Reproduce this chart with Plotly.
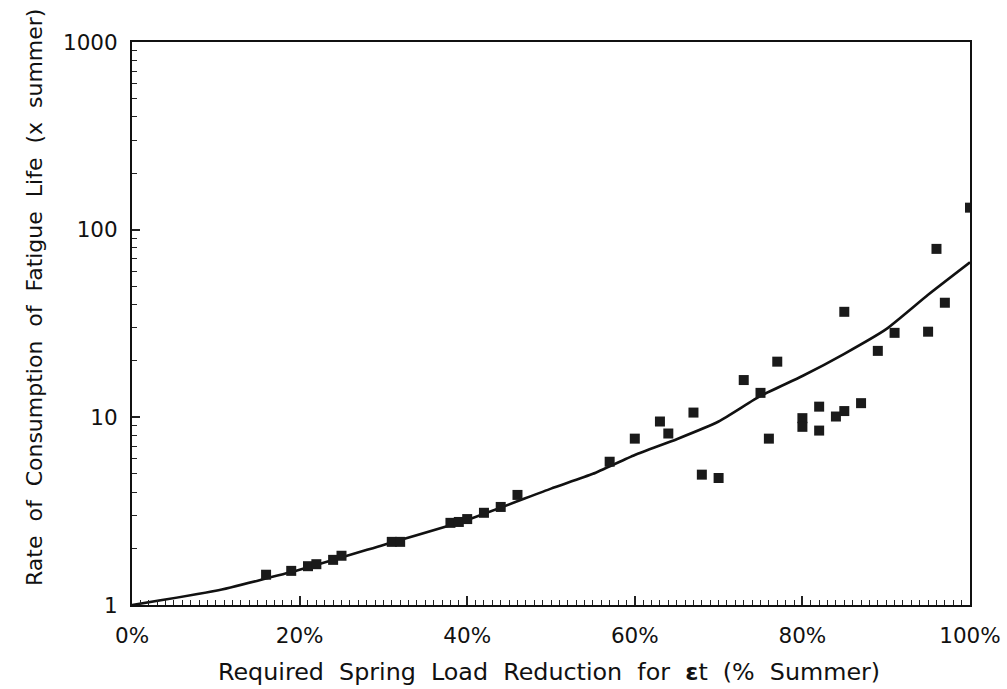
import plotly.graph_objects as go

# Measured data points (x: % summer, y: rate x summer)
pts_x = [16, 19, 21, 22, 24, 25, 31, 32, 38, 39, 40, 42, 44, 46,
         57, 60, 63, 64, 67, 68, 70, 73, 75, 76, 77, 80, 80, 82, 82,
         84, 85, 85, 87, 89, 91, 95, 96, 97, 100]
pts_y = [1.45, 1.52, 1.61, 1.65, 1.74, 1.83, 2.17, 2.17, 2.74, 2.77, 2.87, 3.1, 3.33, 3.86,
         5.8, 7.7, 9.5, 8.2, 10.6, 4.95, 4.75, 15.8, 13.5, 7.7, 19.8, 9.9, 8.9, 11.4, 8.5,
         10.1, 10.8, 36.5, 11.9, 22.6, 28.2, 28.6, 79, 40.8, 131]

# Fitted curve
curve_x = [0, 10, 20, 30, 40, 50, 55, 60, 65, 70, 75, 80, 85, 90, 95, 100]
curve_y = [1.0, 1.19, 1.54, 2.09, 2.84, 4.17, 5.0, 6.3, 7.65, 9.5, 13.0, 16.6, 21.8, 29.5, 45, 67]

x_tickvals = [0, 20, 40, 60, 80, 100]
x_ticktext = ["0%", "20%", "40%", "60%", "80%", "100%"]
y_tickvals = [1, 10, 100, 1000]
y_ticktext = ["1", "10", "100", "1000"]
y_minor = [m * d for d in (1, 10, 100) for m in range(2, 10)]

FONT = "DejaVu Sans"
SP = "\u00a0"

x_title = (SP * 2).join("Required Spring Load Reduction for <b>ε</b>t (% Summer)".split(" "))
y_title = (SP * 2).join("Rate of Consumption of Fatigue Life (x summer)".split(" "))

fig = go.Figure()
fig.add_trace(go.Scatter(x=curve_x, y=curve_y, mode="lines",
                         line=dict(color="#111111", width=2.6, shape="spline", smoothing=0.5),
                         hoverinfo="skip"))
fig.add_trace(go.Scatter(x=pts_x, y=pts_y, mode="markers",
                         marker=dict(symbol="square", size=10, color="#1a1a1a",
                                     line=dict(width=0))))

fig.update_layout(
    width=1007, height=689,
    margin=dict(l=132, r=37, t=42, b=84),
    paper_bgcolor="white", plot_bgcolor="white",
    showlegend=False,
    font=dict(family=FONT, color="#111111", size=22),
    xaxis=dict(
        range=[0, 100], tickmode="array", tickvals=x_tickvals, ticktext=x_ticktext,
        ticks="inside", ticklen=9, tickwidth=1.5, tickcolor="#222",
        minor=dict(tickmode="linear", tick0=0, dtick=1, ticks="inside", ticklen=5,
                   tickwidth=1.2, tickcolor="#222", showgrid=False),
        showline=True, linecolor="#111", linewidth=2, mirror=True,
        showgrid=False, zeroline=False, automargin=False,
        tickfont=dict(size=21.5, family=FONT),
        ticklabelstandoff=10,
    ),
    yaxis=dict(
        type="log", range=[0, 3], tickmode="array", tickvals=y_tickvals, ticktext=y_ticktext,
        ticks="inside", ticklen=8, tickwidth=1.5, tickcolor="#222",
        minor=dict(tickmode="array", tickvals=y_minor, ticks="inside", ticklen=5,
                   tickwidth=1.2, tickcolor="#222", showgrid=False),
        showline=True, linecolor="#111", linewidth=2, mirror=True,
        showgrid=False, zeroline=False, automargin=False,
        tickfont=dict(size=21.5, family=FONT),
        ticklabelstandoff=8,
    ),
    annotations=[
        dict(text=x_title, xref="paper", yref="paper", x=0.4976, y=-0.119,
             xanchor="center", yanchor="middle", showarrow=False,
             font=dict(size=23.8, family=FONT, color="#111111")),
        dict(text=y_title, xref="paper", yref="paper", x=-0.117, y=0.547,
             xanchor="center", yanchor="middle", showarrow=False, textangle=-90,
             font=dict(size=22, family=FONT, color="#111111")),
    ],
)

fig.write_html("out.html")
